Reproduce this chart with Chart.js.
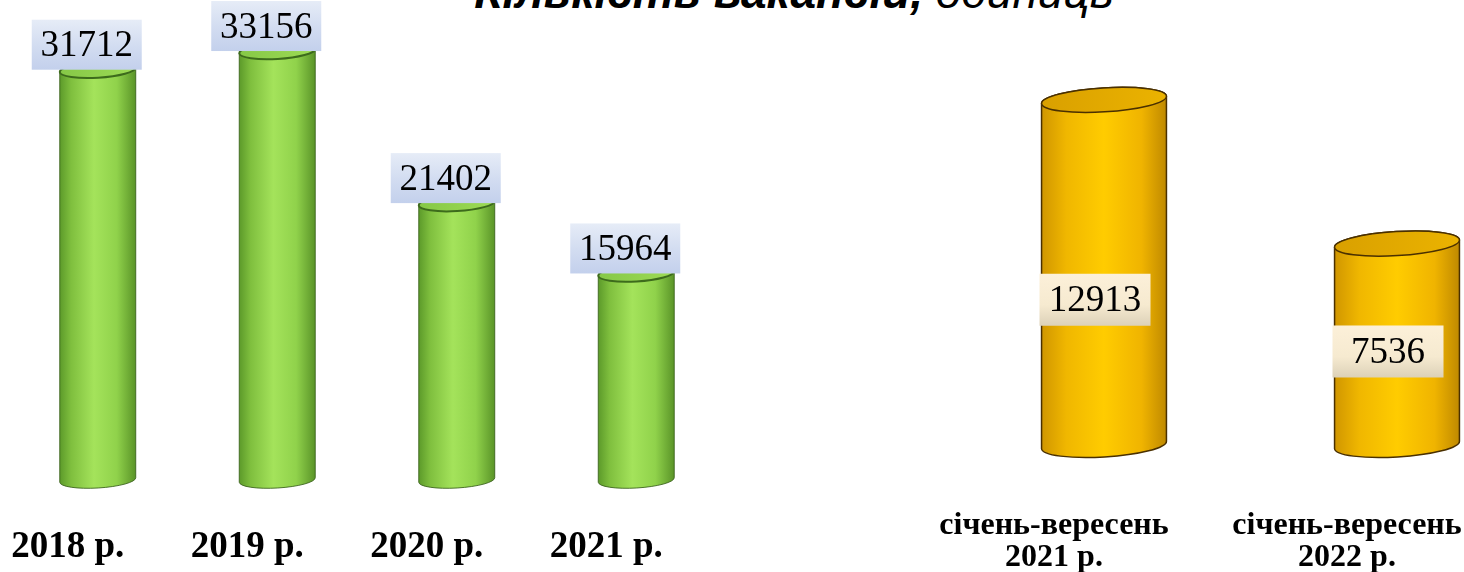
<!DOCTYPE html>
<html>
<head>
<meta charset="utf-8">
<script src="https://cdn.jsdelivr.net/npm/chart.js@4.4.1/dist/chart.umd.min.js"></script>
<style>
  html, body { margin: 0; padding: 0; background: #fff; width: 1464px; height: 572px; overflow: hidden; position: relative; }
  #title { position: absolute; left: 0; top: -32px; width: 1588px; text-align: center; white-space: nowrap;
           font-family: "Liberation Sans", Arial, sans-serif; font-size: 46px; line-height: 48px; color: #000; }
  #title b { font-weight: bold; font-style: italic; }
  #title i { font-style: italic; }
  .wrap { position: absolute; top: 0; height: 572px; }
  #leftWrap { left: 0; width: 760px; }
  #rightWrap { left: 920px; width: 660px; }
</style>
</head>
<body>
<div id="title"><b>Кількість вакансій,</b> <i>одиниць</i></div>
<div class="wrap" id="leftWrap"><canvas id="yearsChart"></canvas></div>
<div class="wrap" id="rightWrap"><canvas id="periodChart"></canvas></div>

<script>
// Annual data
const yearLabels = ['2018 р.', '2019 р.', '2020 р.', '2021 р.'];
const yearValues = [31712, 33156, 21402, 15964];

// January-September data
const periodLabels = [['січень-вересень', '2021 р.'], ['січень-вересень', '2022 р.']];
const periodValues = [12913, 7536];

/**
 * Draw a 3D-looking cylinder over a bar element
 */
function drawCylinder(ctx, x, top, base, w, o) {
  const rx = w / 2;
  const ry = o.ry;
  const t = o.tilt;

  const g = ctx.createLinearGradient(x - rx, 0, x + rx, 0);
  o.body.forEach(([stop, color]) => g.addColorStop(stop, color));

  // Body: bottom front arc, then top back arc
  ctx.save();
  ctx.beginPath();
  ctx.ellipse(x, base, rx, ry, t, 0, Math.PI);
  ctx.ellipse(x, top, rx, ry, t, Math.PI, Math.PI * 2);
  ctx.closePath();
  ctx.fillStyle = g;
  ctx.fill();
  ctx.strokeStyle = o.outline;
  ctx.lineWidth = o.outlineWidth;
  ctx.stroke();

  // Top face
  const tg = ctx.createLinearGradient(x - rx, top, x + rx, top);
  tg.addColorStop(0, o.topFill[0]);
  tg.addColorStop(1, o.topFill[1]);
  ctx.beginPath();
  ctx.ellipse(x, top, rx, ry, t, 0, Math.PI * 2);
  ctx.fillStyle = tg;
  ctx.fill();
  ctx.strokeStyle = o.topStroke;
  ctx.lineWidth = o.topStrokeWidth;
  ctx.stroke();
  ctx.restore();
}

/**
 * Draw a value label in a shaded box
 */
function drawValueBox(ctx, text, cx, cy, o) {
  const w = o.boxWidth;
  const h = o.boxHeight;
  const g = ctx.createLinearGradient(0, cy - h / 2, 0, cy + h / 2);
  o.boxFill.forEach(([stop, color]) => g.addColorStop(stop, color));
  ctx.save();
  ctx.fillStyle = g;
  ctx.fillRect(cx - w / 2, cy - h / 2, w, h);
  ctx.fillStyle = '#000';
  ctx.font = o.font;
  ctx.textAlign = 'center';
  ctx.textBaseline = 'middle';
  ctx.fillText(text, cx, cy + 2);
  ctx.restore();
}

const cylinderPlugin = {
  id: 'cylinders',
  afterDatasetsDraw(chart, args, opts) {
    const ctx = chart.ctx;
    const meta = chart.getDatasetMeta(0);
    const values = chart.data.datasets[0].data;
    meta.data.forEach(bar => {
      const p = bar.getProps(['x', 'y', 'base', 'width'], true);
      drawCylinder(ctx, p.x, p.y, p.base, p.width, opts);
    });
    meta.data.forEach((bar, i) => {
      const p = bar.getProps(['x', 'y', 'base'], true);
      let cy;
      if (opts.labelPos === 'top') {
        cy = p.y - opts.boxHeight / 2;
      } else {
        // inside the cylinder, a bit below its middle
        cy = p.base - (p.base - p.y) * 0.36 - 21;
      }
      drawValueBox(ctx, String(values[i]), p.x + opts.boxShift, cy, opts);
    });
  }
};

function makeChart(canvasId, labels, values, cfg) {
  return new Chart(document.getElementById(canvasId), {
    type: 'bar',
    data: {
      labels,
      datasets: [{
        data: values,
        backgroundColor: 'rgba(0,0,0,0)',
        borderWidth: 0,
        barPercentage: 1,
        categoryPercentage: cfg.catPct
      }]
    },
    options: {
      responsive: true,
      maintainAspectRatio: false,
      animation: false,
      layout: { padding: { left: cfg.padLeft, right: cfg.padRight, top: 0, bottom: 0 } },
      plugins: {
        legend: { display: false },
        tooltip: { enabled: false },
        cylinders: cfg.cyl
      },
      scales: {
        x: {
          grid: { display: false, drawTicks: false },
          border: { display: false },
          afterFit: s => {
            s.height = cfg.axisHeight;
            s.paddingLeft = 0;
            s.paddingRight = 0;
          },
          ticks: {
            color: '#000',
            padding: cfg.tickPad,
            labelOffset: cfg.labelOffset,
            maxRotation: 0,
            autoSkip: false,
            font: cfg.tickFont
          }
        },
        y: {
          display: false,
          min: 0,
          max: cfg.yMax
        }
      }
    },
    plugins: [cylinderPlugin]
  });
}

makeChart('yearsChart', yearLabels, yearValues, {
  catPct: 0.424,
  padLeft: 8,
  padRight: 34,
  axisHeight: 92,
  tickPad: 45,
  labelOffset: -30,
  yMax: 37100,
  tickFont: { family: '"Liberation Serif", "Times New Roman", serif', size: 37, weight: 'bold', lineHeight: 1.2 },
  cyl: {
    ry: 8,
    tilt: -0.06,
    body: [[0, '#5c9a2a'], [0.15, '#7fbf3e'], [0.45, '#a4e35b'], [0.75, '#90d24b'], [1, '#5a9428']],
    outline: 'rgba(55,95,25,0.85)',
    outlineWidth: 1,
    topFill: ['#86c847', '#9ddb55'],
    topStroke: '#3d6b1c',
    topStrokeWidth: 2,
    labelPos: 'top',
    boxShift: -11,
    boxWidth: 110,
    boxHeight: 50,
    boxFill: [[0, '#e6ecf7'], [0.5, '#d3ddf1'], [1, '#c3d0ec']],
    font: '37px "Liberation Serif", "Times New Roman", serif'
  }
});

makeChart('periodChart', periodLabels, periodValues, {
  catPct: 0.427,
  padLeft: 37.5,
  padRight: 36.5,
  axisHeight: 127,
  tickPad: 64,
  labelOffset: -50,
  yMax: 16650,
  tickFont: { family: '"Liberation Serif", "Times New Roman", serif', size: 32, weight: 'bold', lineHeight: 1.02 },
  cyl: {
    ry: 12,
    tilt: -0.06,
    body: [[0, '#d09600'], [0.2, '#f0b700'], [0.5, '#ffcc00'], [0.8, '#f0b400'], [1, '#bf8900']],
    outline: '#4a3000',
    outlineWidth: 1.5,
    topFill: ['#d9a000', '#ebb300'],
    topStroke: '#4a3000',
    topStrokeWidth: 1.5,
    labelPos: 'middle',
    boxShift: -9,
    boxWidth: 111,
    boxHeight: 52,
    boxFill: [[0, '#fcf0d9'], [0.6, '#f6ead0'], [1, '#dcd1b8']],
    font: '37px "Liberation Serif", "Times New Roman", serif'
  }
});
</script>
</body>
</html>
